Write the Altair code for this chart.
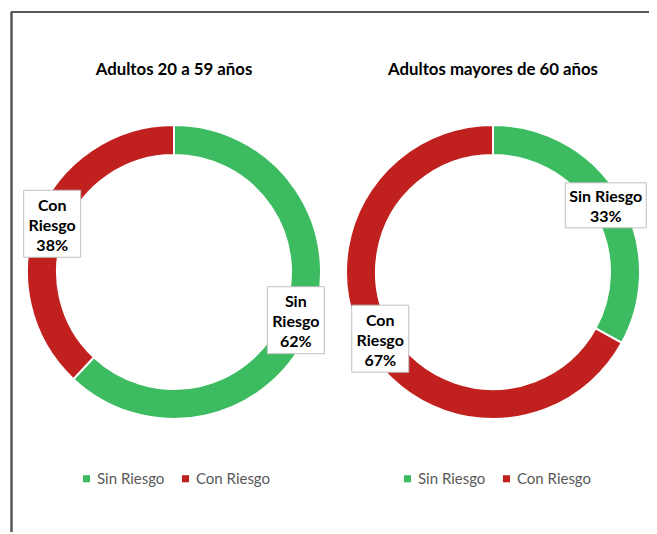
import altair as alt
import pandas as pd

# ---- data ----
groups = ["Adultos 20 a 59 años", "Adultos mayores de 60 años"]
categories = ["Sin Riesgo", "Con Riesgo"]
sin_riesgo = [62, 33]   # % per group
con_riesgo = [38, 67]   # % per group
# whether the label's category name is wrapped onto two lines
label_wrapped = [[True, True], [False, True]]
colors = ["#3DBB61", "#C0201E"]

rows = []
for gi, g in enumerate(groups):
    for ci, cat in enumerate(categories):
        pct = [sin_riesgo, con_riesgo][ci][gi]
        name = cat.replace(" ", "\n") if label_wrapped[gi][ci] else cat
        label = f"{name}\n{pct}%"
        rows.append({"group": g, "gi": gi, "category": cat, "order": ci,
                     "pct": pct, "label": label, "lines": label.count("\n") + 1})
df = pd.DataFrame(rows)
titles = pd.DataFrame({"group": groups, "gi": list(range(len(groups)))})

# ---- layout constants (pixels) ----
W, H = 641, 524
CX = [166, 485]
CY = 264
R_OUT, R_IN, R_LAB = 147, 117, 131
FONT = "Lato"
LINE_H = 20

cx_expr = f"(datum.gi == 0 ? {CX[0]} : {CX[1]})"

def arcs(gi, legend_x):
    return alt.Chart(df).transform_filter(f"datum.gi == {gi}").mark_arc(
        innerRadius=R_IN, outerRadius=R_OUT, stroke="white", strokeWidth=2
    ).encode(
        theta=alt.Theta("pct:Q", stack=True),
        order=alt.Order("order:Q"),
        color=alt.Color(
            "category:N",
            scale=alt.Scale(domain=categories, range=colors),
            legend=alt.Legend(
                orient="none", legendX=legend_x, legendY=463, direction="horizontal",
                title=None, symbolType="square", symbolSize=50, symbolStrokeWidth=0,
                labelFont=FONT, labelFontSize=15, labelColor="#595959",
                labelOffset=3, columnPadding=13, padding=0,
            ),
        ),
        x=alt.value(CX[gi]),
        y=alt.value(CY),
    )

lab_base = alt.Chart(df).transform_window(
    cum="sum(pct)", groupby=["group"], sort=[alt.SortField("order")], frame=[None, 0]
).transform_calculate(
    ang="(datum.cum - datum.pct / 2) / 100 * 2 * PI",
).transform_calculate(
    lx=f"{cx_expr} + {R_LAB} * sin(datum.ang)",
    ly=f"{CY} - {R_LAB} * cos(datum.ang)",
    bw="datum.lines == 2 ? 81 : 57",
    bh="datum.lines * 22 + 1",
).transform_calculate(
    x1="datum.lx - datum.bw / 2", x2="datum.lx + datum.bw / 2",
    y1="datum.ly - datum.bh / 2", y2="datum.ly + datum.bh / 2",
    ty=f"datum.ly - (datum.lines - 1) * {LINE_H} / 2 + 2",
)

boxes = lab_base.mark_rect(fill="white", stroke="#BFBFBF", strokeWidth=1).encode(
    x=alt.X("x1:Q", scale=None), x2="x2:Q",
    y=alt.Y("y1:Q", scale=None), y2="y2:Q",
)

labels = lab_base.mark_text(
    lineBreak="\n", font=FONT, fontSize=16, fontWeight="bold", lineHeight=LINE_H,
    align="center", baseline="middle", color="black",
).encode(
    x=alt.X("lx:Q", scale=None), y=alt.Y("ty:Q", scale=None), text="label:N",
)

title_text = alt.Chart(titles).transform_calculate(
    tx=cx_expr, ty="62"
).mark_text(
    font=FONT, fontSize=16.8, fontWeight="bold", align="center", baseline="middle", color="black"
).encode(
    x=alt.X("tx:Q", scale=None), y=alt.Y("ty:Q", scale=None), text="group:N",
)

border_top = alt.Chart(titles).mark_rule(color="#595959", strokeWidth=2).encode(
    x=alt.value(3), x2=alt.value(W), y=alt.value(4)
)
border_left = alt.Chart(titles).mark_rule(color="#595959", strokeWidth=2).encode(
    x=alt.value(3.5), y=alt.value(4), y2=alt.value(H)
)

chart = alt.layer(
    border_top, border_left, arcs(0, 71), arcs(1, 392), boxes, labels, title_text
).resolve_scale(color="independent").resolve_legend(color="independent").properties(
    width=W, height=H, autosize=alt.AutoSizeParams(type="none"), padding=0
).configure_view(stroke=None)

chart.save("out.html", embed_options={"renderer": "svg", "actions": False})
